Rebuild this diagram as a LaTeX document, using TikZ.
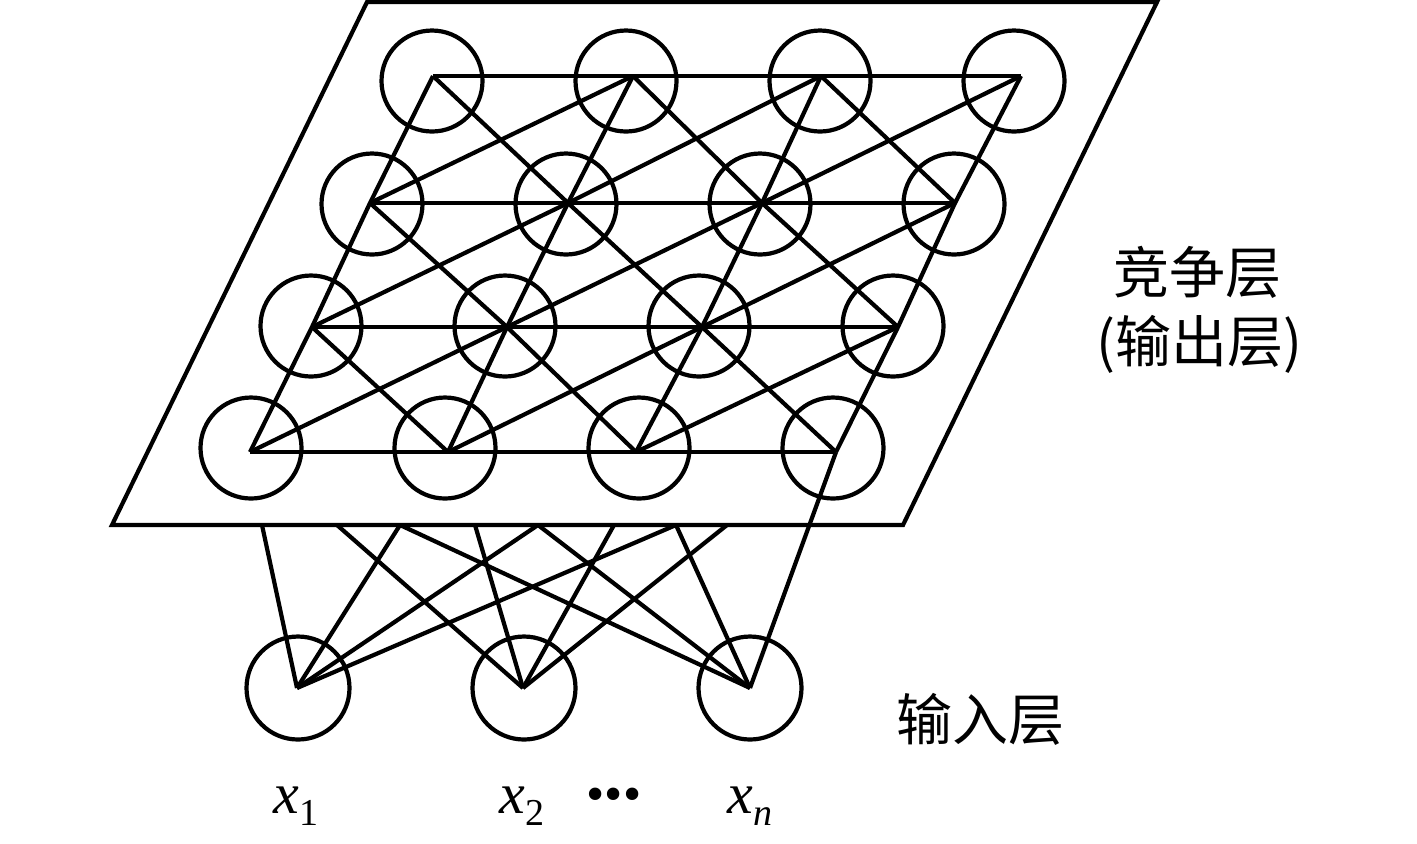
\documentclass[tikz,border=0pt]{standalone}
\usepackage{fontspec}
\setmainfont{Liberation Serif}
\newfontfamily\cjk{Noto Sans CJK SC}
\begin{document}
\begin{tikzpicture}[x=0.5pt,y=-0.5pt,line width=2.1pt,line join=miter,
  neuron/.style={circle,draw,line width=2.1pt,minimum size=50.5pt,inner sep=0pt},
  inneuron/.style={circle,draw,line width=2.1pt,minimum size=51.5pt,inner sep=0pt},
  cjklabel/.style={font=\cjk\fontsize{28}{34}\selectfont,inner sep=0pt},
  xlabel/.style={font=\fontsize{29}{34}\selectfont,inner sep=0pt,anchor=base}]
\path[use as bounding box] (0,0) rectangle (1417,843);
% plane
\coordinate (pTL) at (367,2);
\coordinate (pTR) at (1157,2);
\coordinate (pBR) at (903,525);
\coordinate (pBL) at (112,525);
\draw (pTL) -- (pTR) -- (pBR) -- (pBL) -- cycle;
% neurons of the competitive layer
\foreach \n/\x/\y in {11/432/81,12/626/81,13/820/81,14/1014/81,
  21/372/204,22/566/204,23/760/204,24/954/204,
  31/311/326,32/505/326,33/699/326,34/893/326,
  41/251/448,42/445/448,43/639/448,44/833/448}
  \node[neuron] (c\n) at (\x,\y) {};
% grid vertices
\foreach \n/\x/\y in {11/433/76,12/633/76,13/821/76,14/1021/76,
  21/370/203,22/568/203,23/762/203,24/955/203,
  31/312/327,32/507/327,33/702/327,34/898/327,
  41/250/452,42/448/452,43/636/452,44/836/452}
  \coordinate (v\n) at (\x,\y);
% rows
\draw (v11) -- (v12) -- (v13) -- (v14);
\draw (v21) -- (v22) -- (v23) -- (v24);
\draw (v31) -- (v32) -- (v33) -- (v34);
\draw (v41) -- (v42) -- (v43) -- (v44);
% columns
\draw (v11) -- (v21) -- (v31) -- (v41);
\draw (v12) -- (v22) -- (v32) -- (v42);
\draw (v13) -- (v23) -- (v33) -- (v43);
\draw (v14) -- (v24) -- (v34) -- (v44);
% down-right diagonals
\draw (v11) -- (v22) -- (v33) -- (v44);
\draw (v12) -- (v23) -- (v34);
\draw (v13) -- (v24);
\draw (v21) -- (v32) -- (v43);
\draw (v31) -- (v42);
% up-right diagonals
\draw (v21) -- (v12);
\draw (v31) -- (v22) -- (v13);
\draw (v41) -- (v32) -- (v23) -- (v14);
\draw (v42) -- (v33) -- (v24);
\draw (v43) -- (v34);
% input neurons
\node[inneuron] (i1) at (298,688) {};
\node[inneuron] (i2) at (524,688) {};
\node[inneuron] (i3) at (750,688) {};
\coordinate (u1) at (297,688);
\coordinate (u2) at (523,688);
\coordinate (u3) at (750,688);
% points on the lower edge of the plane
\foreach \k/\x in {1/262,2/337,3/400,4/475,5/538,6/614,7/676,8/727}
  \coordinate (b\k) at (\x,525);
\foreach \u/\b in {u1/b1,u1/b3,u1/b5,u1/b7,u2/b2,u2/b4,u2/b6,u2/b8,
  u3/b3,u3/b5,u3/b7,u3/v44}
  \draw (\u) -- (\b);
% labels
\node[cjklabel] (tcomp) at (1197,272) {竞争层};
\node[cjklabel] (tout) at (1199,344) {(输出层)};
\node[cjklabel] (tin) at (980,719) {输入层};
\node[xlabel] (x1) at (296,813) {\textit{x}\raisebox{-6pt}{\fontsize{19}{19}\selectfont 1}};
\node[xlabel] (x2) at (522,813) {\textit{x}\raisebox{-6pt}{\fontsize{19}{19}\selectfont 2}};
\node[font=\fontsize{26}{30}\selectfont,inner sep=0pt] (dots) at (614,800) {•••};
\node[xlabel] (xn) at (750,813) {\textit{x}\raisebox{-6pt}{\fontsize{19}{19}\selectfont\textit{n}}};
\end{tikzpicture}
\end{document}
